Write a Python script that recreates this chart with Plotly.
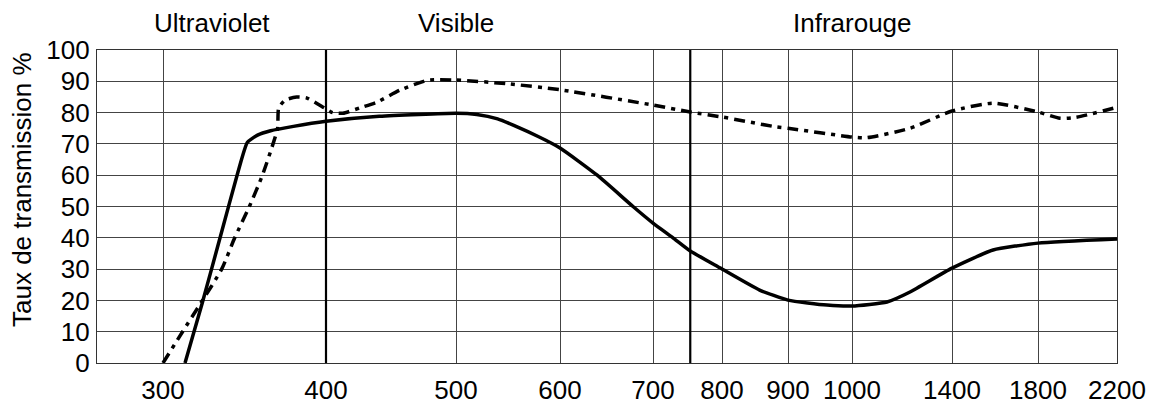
import numpy as np
import plotly.graph_objects as go

# Non-uniform wavelength scale of the original chart (tick wavelength -> axis position)
TICK_NM = [300, 400, 500, 600, 700, 800, 900, 1000, 1400, 1800, 2200]
TICK_POS = [66, 229, 359, 463, 556, 625, 691, 755, 855, 941, 1020]
TICK_TEXT = [str(v) for v in TICK_NM]

# Solid curve (nm, %)
solid_nm = [313.5, 324, 335, 346, 351.8, 358, 366, 380, 400, 441, 500, 520,
            540, 555, 580, 600, 640, 678.5, 700, 729, 754, 797, 857, 900, 961, 1000, 1140, 1232,
            1400, 1591, 1800, 2200]
solid_val = [0, 19, 40, 61, 70.5, 72.8, 74.2, 75.6, 77.2, 78.8, 79.8, 79.4,
             78, 76, 72.2, 68.7, 60, 50, 44.7, 40, 35.8, 30.4, 23.3, 20.1, 18.5, 18.2, 19.5, 22.7,
             30.3, 36.1, 38.3, 39.6]

# Dash-dot curve (nm, %)
dash_nm = [300, 312, 323, 336, 344, 353, 361, 367.5, 370.3, 371, 375, 382, 388, 399,
           405, 413, 426, 439, 457, 478, 500, 550, 600, 700, 754, 800, 883, 900, 1000,
           1060, 1232, 1400, 1591, 1800, 1911, 1992, 2200]
dash_val = [0, 10, 19, 30, 40, 50, 60, 70, 75, 81.5, 84, 85, 84.7, 81.5,
            80, 79.8, 81.5, 83.3, 87.2, 90.3, 90.4, 89.2, 87.3, 82.4, 80.2, 78.6, 75.4, 75, 72.2,
            72.0, 75, 80.5, 83, 80.2, 78.2, 78.5, 81.7]

# Region boundaries (nm) and labels
BOUNDARY_NM = [400, 754]
REGION_LABELS = ["Ultraviolet", "Visible", "Infrarouge"]
REGION_NM = [330, 500, 1000]

Y_TICKS = list(range(0, 101, 10))


def warp(nm):
    return np.interp(nm, TICK_NM, TICK_POS)


FONT = "Liberation Sans, Arial, Helvetica, sans-serif"
FS = 26
PLOT_H = 313

fig = go.Figure()
fig.add_trace(go.Scatter(
    x=warp(dash_nm), y=dash_val, mode="lines",
    line=dict(color="black", width=3.5, dash="11px,6px,4px,6px", shape="spline", smoothing=0.6),
    showlegend=False, hoverinfo="skip"))
fig.add_trace(go.Scatter(
    x=warp(solid_nm), y=solid_val, mode="lines",
    line=dict(color="black", width=3.5, shape="spline", smoothing=0.5),
    showlegend=False, hoverinfo="skip"))

for b in BOUNDARY_NM:
    fig.add_shape(type="line", xref="x", yref="y", x0=warp(b), x1=warp(b), y0=0, y1=100,
                  line=dict(color="black", width=2.2), layer="above")

for lab, nm in zip(REGION_LABELS, REGION_NM):
    fig.add_annotation(text=lab, xref="x", yref="paper", x=warp(nm), y=1 + 27 / PLOT_H,
                       xanchor="center", yanchor="middle", showarrow=False,
                       font=dict(family=FONT, size=FS, color="black"))

fig.add_annotation(text="Taux de transmission %", xref="paper", yref="paper",
                   x=(22 - 97) / 1020, y=(363 - 190) / PLOT_H, textangle=-90,
                   xanchor="center", yanchor="middle", showarrow=False,
                   font=dict(family=FONT, size=FS, color="black"))

# page body has an 8px margin: figure sized/offset to fit the 1156x406 window
fig.update_layout(
    width=1148, height=398,
    margin=dict(l=89, r=39, t=42, b=43),
    paper_bgcolor="white", plot_bgcolor="white",
    font=dict(family=FONT, size=FS, color="black"),
    xaxis=dict(range=[0, 1020], tickmode="array", tickvals=TICK_POS, ticktext=TICK_TEXT,
               showgrid=True, gridcolor="#444", gridwidth=1, zeroline=False,
               showline=True, linecolor="#333", linewidth=1.2, mirror=True, ticks="",
               ticklabelstandoff=4, automargin=False,
               tickfont=dict(size=FS), fixedrange=True),
    yaxis=dict(range=[0, 100], tickmode="array", tickvals=Y_TICKS,
               showgrid=True, gridcolor="#444", gridwidth=1, zeroline=False,
               showline=True, linecolor="#333", linewidth=1.2, mirror=True, ticks="",
               ticklabelstandoff=1, automargin=False,
               tickfont=dict(size=FS), fixedrange=True),
)

fig.write_html("out.html")
